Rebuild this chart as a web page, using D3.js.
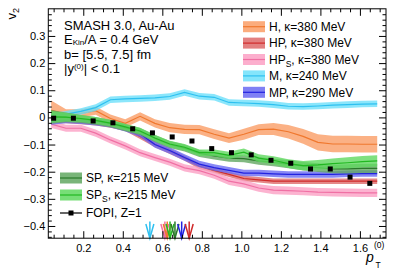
<!DOCTYPE html>
<html><head><meta charset="utf-8">
<script src="https://cdn.jsdelivr.net/npm/d3@7"></script>
<style>
html,body{margin:0;padding:0;background:#fff;}
svg{display:block;font-family:"Liberation Sans",Arial,Helvetica,sans-serif;}
</style></head>
<body>
<script>
// ---------- data ----------
const pT = [0.0375,0.1125,0.1875,0.2625,0.3375,0.4125,0.4875,0.5625,0.6375,0.7125,0.7875,0.8625,0.9375,1.0125,1.0875,1.1625,1.2375,1.3125,1.3875,1.4625,1.5375,1.6125,1.6875];

const H    = [0.027,0.010,0.015,0.025,-0.004,-0.022,0.004,-0.022,-0.038,-0.044,-0.045,-0.062,-0.076,-0.062,-0.045,-0.043,-0.053,-0.070,-0.092,-0.098,-0.098,-0.099,-0.099];
const Herr = [0.035,0.020,0.015,0.015,0.015,0.015,0.015,0.015,0.017,0.017,0.017,0.018,0.018,0.020,0.020,0.022,0.025,0.027,0.030,0.030,0.030,0.030,0.030];

const HP    = [-0.010,-0.012,-0.015,-0.020,-0.028,-0.040,-0.070,-0.100,-0.125,-0.150,-0.180,-0.195,-0.210,-0.225,-0.230,-0.235,-0.235,-0.235,-0.235,-0.235,-0.235,-0.235,-0.235];
const HPerr = [0.012,0.010,0.010,0.010,0.010,0.010,0.010,0.010,0.010,0.010,0.010,0.010,0.010,0.010,0.010,0.010,0.010,0.010,0.010,0.010,0.010,0.010,0.010];

const HPS    = [-0.025,-0.040,-0.040,-0.058,-0.083,-0.105,-0.130,-0.148,-0.165,-0.186,-0.196,-0.213,-0.235,-0.245,-0.260,-0.268,-0.270,-0.272,-0.275,-0.276,-0.277,-0.278,-0.278];
const HPSerr = [0.014,0.013,0.013,0.013,0.013,0.013,0.013,0.013,0.013,0.013,0.013,0.013,0.014,0.014,0.014,0.015,0.015,0.015,0.015,0.015,0.015,0.015,0.015];

const M    = [0.003,0.012,0.022,0.036,0.065,0.068,0.070,0.072,0.077,0.092,0.078,0.074,0.055,0.053,0.051,0.047,0.041,0.040,0.042,0.045,0.047,0.049,0.050];
const Merr = [0.012,0.012,0.012,0.012,0.012,0.012,0.012,0.012,0.012,0.012,0.012,0.012,0.012,0.012,0.012,0.012,0.012,0.012,0.012,0.012,0.012,0.012,0.012];

const MP    = [-0.015,-0.010,-0.012,-0.018,-0.025,-0.040,-0.060,-0.100,-0.122,-0.148,-0.172,-0.185,-0.195,-0.205,-0.205,-0.208,-0.210,-0.210,-0.210,-0.210,-0.208,-0.207,-0.207];
const MPerr = [0.012,0.012,0.012,0.012,0.012,0.012,0.012,0.012,0.012,0.012,0.012,0.012,0.012,0.012,0.012,0.012,0.012,0.012,0.012,0.012,0.012,0.012,0.012];

const SP    = [0.002,0.000,-0.006,-0.013,-0.023,-0.038,-0.052,-0.078,-0.100,-0.113,-0.133,-0.142,-0.150,-0.152,-0.160,-0.166,-0.172,-0.180,-0.185,-0.190,-0.190,-0.188,-0.188];
const SPerr = [0.025,0.018,0.015,0.014,0.013,0.013,0.013,0.013,0.013,0.013,0.013,0.013,0.013,0.013,0.014,0.014,0.015,0.016,0.016,0.016,0.017,0.017,0.017];

const SPS    = [0.002,0.001,-0.004,-0.011,-0.021,-0.035,-0.050,-0.076,-0.098,-0.110,-0.130,-0.130,-0.140,-0.128,-0.150,-0.158,-0.170,-0.178,-0.175,-0.170,-0.167,-0.163,-0.160];
const SPSerr = [0.022,0.016,0.013,0.012,0.012,0.012,0.012,0.012,0.012,0.012,0.012,0.012,0.013,0.013,0.014,0.015,0.016,0.017,0.018,0.019,0.020,0.021,0.021];

const fopiPt = [0.05,0.15,0.25,0.35,0.45,0.55,0.65,0.75,0.85,0.95,1.05,1.15,1.25,1.35,1.45,1.55,1.65];
const fopiV  = [-0.003,-0.003,-0.013,-0.020,-0.042,-0.057,-0.072,-0.087,-0.115,-0.130,-0.138,-0.158,-0.169,-0.190,-0.190,-0.220,-0.243];

const arrowNames = ["M","HP_S","H","SP_S","SP","MP","HP"];
const arrowPt    = [0.537,0.613,0.625,0.639,0.664,0.698,0.736];

const xTicks = [0.2,0.4,0.6,0.8,1.0,1.2,1.4,1.6];
const yTicks = [-0.4,-0.3,-0.2,-0.1,0,0.1,0.2,0.3];

// ---------- styles ----------
const series = [
  {name:"H",   v:H,   e:Herr,   fill:"#fa9e66", line:"#f0782e", label:["H, κ=380 MeV"]},
  {name:"HP",  v:HP,  e:HPerr,  fill:"#de6a6a", line:"#d02a2a", label:["HP, κ=380 MeV"]},
  {name:"HP_S",v:HPS, e:HPSerr, fill:"#fba0c4", line:"#f070a4", label:["HP","S",", κ=380 MeV"]},
  {name:"M",   v:M,   e:Merr,   fill:"#6ee0fa", line:"#2ec0f0", label:["M, κ=240 MeV"]},
  {name:"MP",  v:MP,  e:MPerr,  fill:"#6a6af2", line:"#2222e0", label:["MP, κ=290 MeV"]},
  {name:"SP",  v:SP,  e:SPerr,  fill:"#62a862", line:"#2a7a2a", label:["SP, κ=215 MeV"]},
  {name:"SP_S",v:SPS, e:SPSerr, fill:"#5fd85f", line:"#22b822", label:["SP","S",", κ=215 MeV"]}
];
const byName = {}; series.forEach(s=>byName[s.name]=s);

// ---------- layout ----------
const W=399, Hh=272;
const L=48.3, R=386, T=8.8, B=238.2;
const x = d3.scaleLinear().domain([0.023,1.732]).range([L,R]);
const y = d3.scaleLinear().domain([-0.445,0.4]).range([B,T]);

const svg = d3.select("body").append("svg").attr("width",W).attr("height",Hh);
svg.append("rect").attr("width",W).attr("height",Hh).attr("fill","#fff");

svg.append("defs").append("clipPath").attr("id","clip")
  .append("rect").attr("x",L).attr("y",T).attr("width",R-L).attr("height",B-T);

const plot = svg.append("g").attr("clip-path","url(#clip)");

const area = d3.area().x((d,i)=>x(pT[i])).y0(d=>y(d[0]-d[1])).y1(d=>y(d[0]+d[1]));
const line = d3.line().x((d,i)=>x(pT[i])).y(d=>y(d));

series.forEach(s=>{
  const pts = s.v.map((v,i)=>[v,s.e[i]]);
  plot.append("path").datum(pts).attr("d",area).attr("fill",s.fill).attr("fill-opacity",0.8);
  plot.append("path").datum(s.v).attr("d",line).attr("fill","none").attr("stroke",s.line).attr("stroke-width",1.2);
});

// FOPI points
plot.selectAll("rect.fopi").data(fopiPt).enter().append("rect")
  .attr("x",(d)=>x(d)-2.5).attr("y",(d,i)=>y(fopiV[i])-2.5)
  .attr("width",5).attr("height",5).attr("fill","#000");

// arrows
arrowPt.forEach((p,i)=>{
  const c = byName[arrowNames[i]].line;
  const ax = x(p);
  const g = svg.append("g").attr("stroke",c).attr("stroke-width",1.5).attr("fill","none");
  g.append("line").attr("x1",ax).attr("x2",ax).attr("y1",221.5).attr("y2",B);
  g.append("path").attr("d",`M${ax-4},${224}L${ax},${B}L${ax+4},${224}`);
});

// ---------- axes ----------
function axisG(gen, tr){ 
  const g = svg.append("g").attr("transform",tr).call(gen);
  g.select(".domain").remove();
  g.selectAll("line").attr("stroke","#000");
  g.selectAll("text").attr("font-size","11px").attr("fill","#000").attr("font-family","Liberation Sans, Arial, sans-serif");
  return g;
}
const fmt = d => d===0 ? "0" : (d<0 ? "\u2212"+d3.format(".1f")(-d) : d3.format(".1f")(d));
const yMinor = d3.range(-44,41,2).map(d=>d/100).filter(d=>Math.abs(Math.round(d*100)%10)!==0);
const xMinor = d3.range(1,35).map(d=>d*0.05).filter(d=>Math.abs(Math.round(d*100)%20)!==0 && d>0.023 && d<1.732);

axisG(d3.axisLeft(y).tickValues(yTicks).tickFormat(fmt).tickSizeInner(-7).tickSizeOuter(0).tickPadding(3), `translate(${L},0)`);
axisG(d3.axisLeft(y).tickValues(yMinor).tickFormat("").tickSizeInner(-3.5).tickSizeOuter(0), `translate(${L},0)`);
axisG(d3.axisRight(y).tickValues(yTicks).tickFormat("").tickSizeInner(-7).tickSizeOuter(0), `translate(${R},0)`);
axisG(d3.axisRight(y).tickValues(yMinor).tickFormat("").tickSizeInner(-3.5).tickSizeOuter(0), `translate(${R},0)`);
axisG(d3.axisBottom(x).tickValues(xTicks).tickFormat(d3.format(".1f")).tickSizeInner(-7).tickSizeOuter(0).tickPadding(3), `translate(0,${B})`)
  .selectAll("text").attr("dy","0.95em");
axisG(d3.axisBottom(x).tickValues(xMinor).tickFormat("").tickSizeInner(-3.5).tickSizeOuter(0), `translate(0,${B})`);
axisG(d3.axisTop(x).tickValues(xTicks).tickFormat("").tickSizeInner(-7).tickSizeOuter(0), `translate(0,${T})`);
axisG(d3.axisTop(x).tickValues(xMinor).tickFormat("").tickSizeInner(-3.5).tickSizeOuter(0), `translate(0,${T})`);

svg.append("rect").attr("x",L).attr("y",T).attr("width",R-L).attr("height",B-T)
  .attr("fill","none").attr("stroke","#000").attr("stroke-width",1);

// axis titles
const yt = svg.append("text").attr("transform","translate(16,8) rotate(-90)")
  .attr("text-anchor","end").attr("font-size","13px");
yt.append("tspan").text("v");
yt.append("tspan").attr("font-size","9px").attr("dy","3").text("2");

svg.append("text").attr("x",366).attr("y",262).attr("font-size","14px").attr("font-style","italic").text("p");
svg.append("text").attr("x",374).attr("y",248).attr("font-size","8.5px").text("(0)");
svg.append("text").attr("x",375.5).attr("y",267.5).attr("font-size","8.5px").text("T");

// title block
const info = svg.append("g").attr("font-size","13px").attr("fill","#000");
info.append("text").attr("x",64).attr("y",29.5).text("SMASH 3.0, Au-Au");
const e = info.append("text").attr("x",64).attr("y",44);
e.append("tspan").text("E");
e.append("tspan").attr("font-size","8px").attr("dy","1").text("Kin");
e.append("tspan").attr("dy","-1").text("/A = 0.4 GeV");
info.append("text").attr("x",64).attr("y",58.8).text("b= [5.5, 7.5] fm");
const yy = info.append("text").attr("x",64).attr("y",72.8);
yy.append("tspan").text("|y");
yy.append("tspan").attr("font-size","8px").attr("dy","-4").text("(0)");
yy.append("tspan").attr("dy","4").text("| < 0.1");

// legends
function legendRow(s, lx, cy){
  svg.append("rect").attr("x",lx).attr("y",cy-5.5).attr("width",22).attr("height",11)
    .attr("fill",s.fill).attr("fill-opacity",0.85);
  svg.append("line").attr("x1",lx).attr("x2",lx+22).attr("y1",cy).attr("y2",cy)
    .attr("stroke",s.line).attr("stroke-width",1.2);
  const t = svg.append("text").attr("x",lx+26).attr("y",cy+4.3).attr("font-size","12px");
  if(s.label.length===1){ t.text(s.label[0]); }
  else {
    t.append("tspan").text(s.label[0]);
    t.append("tspan").attr("font-size","8.5px").attr("dy","3").text(s.label[1]);
    t.append("tspan").attr("dy","-3").text(s.label[2]);
  }
}
["H","HP","HP_S","M","MP"].forEach((n,i)=>legendRow(byName[n],243,26.7+i*16.4));
legendRow(byName["SP"],60,178);
legendRow(byName["SP_S"],60,195);
// FOPI legend
svg.append("line").attr("x1",60).attr("x2",82).attr("y1",213).attr("y2",213).attr("stroke","#000").attr("stroke-width",1.2);
svg.append("rect").attr("x",68.5).attr("y",210.5).attr("width",5).attr("height",5).attr("fill","#000");
svg.append("text").attr("x",86).attr("y",217.3).attr("font-size","12px").text("FOPI, Z=1");
</script>
</body></html>
